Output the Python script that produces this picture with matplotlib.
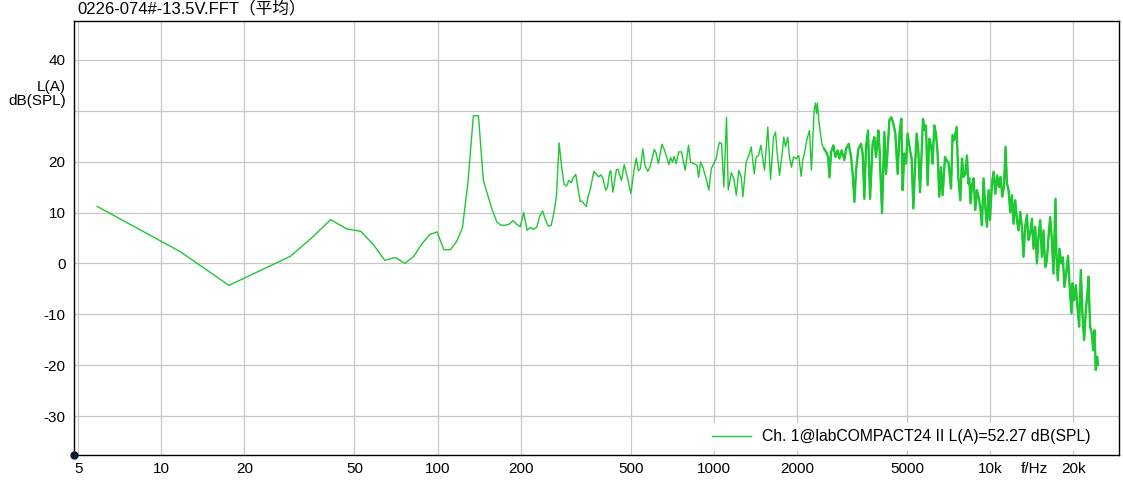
import matplotlib
matplotlib.use('Agg')
import matplotlib.pyplot as plt
from matplotlib.ticker import NullLocator

plt.rcParams['font.family'] = ['Liberation Sans', 'Noto Sans CJK SC']

title = '0226-074#-13.5V.FFT（平均）'
legend_label = 'Ch. 1@labCOMPACT24 II L(A)=52.27 dB(SPL)'

# FFT bins at the low end (5.86 Hz resolution)
freq_low = [5.86, 11.72, 17.58, 23.44, 29.30, 35.16, 41.02, 46.88, 52.73, 58.59,
            64.45, 70.31, 76.17, 82.03, 87.89, 93.75, 99.61, 105.47, 111.33, 117.19,
            123.05, 128.91, 134.77, 140.63, 146.48, 152.34, 158.20, 164.06, 169.92, 175.78,
            181.64, 187.50, 193.36, 199.22, 205.08, 210.94, 216.80, 222.66, 228.52, 234.38,
            240.23, 246.09, 251.95, 257.81, 263.67, 269.53, 275.39, 281.25, 287.11, 292.97,
            298.83, 304.69, 310.55, 316.41, 322.27, 328.13, 333.98, 339.84, 345.70, 351.56,
            357.42]
level_low = [11.2, 2.3, -4.3, -1.1, 1.4, 5.1, 8.6, 6.8, 6.3, 3.7,
             0.6, 1.2, 0.0, 1.4, 3.9, 5.7, 6.2, 2.7, 2.7, 4.3,
             7.0, 16.0, 29.0, 29.0, 16.3, 13.2, 10.3, 8.1, 7.5, 7.5,
             7.7, 8.4, 7.7, 7.2, 10.0, 6.5, 7.1, 6.7, 7.1, 9.3,
             10.3, 8.5, 7.3, 7.5, 9.9, 13.4, 23.7, 19.0, 15.5, 15.2,
             16.3, 15.9, 16.9, 17.5, 14.8, 12.2, 12.2, 11.6, 11.2, 13.4,
             14.6]

# dense part, read as peaks / dips
freq_high = [368, 383, 390, 397, 406, 412, 420, 424, 431, 444, 450, 463, 474, 486, 501,
             514, 524, 533, 542, 554, 563, 577, 589, 609, 619, 630, 649, 664, 688, 698,
             709, 719, 731, 747, 764, 788, 810, 824, 847, 869, 881, 896, 913, 934, 960,
             979, 1021, 1034, 1049, 1067, 1087, 1112, 1128, 1157, 1182, 1206, 1232, 1257, 1274, 1310,
             1339, 1366, 1401, 1424, 1452, 1480, 1505, 1526, 1569, 1605, 1645, 1673, 1691, 1729, 1763,
             1792, 1818, 1853, 1879, 1911, 1943, 1987, 2030, 2071, 2099, 2129, 2170, 2220, 2257, 2282,
             2308, 2333, 2353, 2372, 2398, 2433, 2467, 2508, 2550, 2594, 2622, 2659, 2710, 2756, 2810,
             2849, 2904, 2970, 3012, 3078, 3141, 3183, 3228, 3274, 3337, 3413, 3459, 3508, 3557, 3617,
             3678, 3758, 3812, 3866, 3941, 3973, 4065, 4144, 4203, 4259, 4320, 4393, 4467, 4541, 4630,
             4708, 4775, 4827, 4895, 4964, 5030, 5134, 5203, 5277, 5366, 5424, 5501, 5579, 5654, 5720,
             5816, 5864, 5943, 6028, 6129, 6196, 6283, 6373, 6459, 6551, 6645, 6734, 6871, 6963, 7081,
             7224, 7320, 7425, 7568, 7675, 7805, 7915, 8022, 8137, 8252, 8342, 8411, 8503, 8603, 8719,
             8843, 8968, 9088, 9218, 9349, 9475, 9610, 9747, 9878, 9995, 10160, 10300, 10445, 10621, 10772,
             10917, 11073, 11230, 11381, 11515, 11670, 11835, 12003, 12164, 12339, 12514, 12683, 12862, 13046, 13219,
             13408, 13598, 13781, 13979, 14178, 14369, 14573, 14782, 14977, 15192, 15407, 15614, 15838, 16062, 16278,
             16508, 16745, 16967, 17254, 17398, 17600, 17836, 18093, 18349, 18596, 18858, 19161, 19387, 19712, 19876,
             20160, 20446, 20721, 21018, 21316, 21603, 21909, 22222, 22521, 22709, 23030, 23360, 23614, 23871, 24148,
             24410, 24614]
level_high = [18.1, 17.0, 17.4, 16.7, 14.4, 14.9, 18.0, 18.2, 14.0, 18.4, 18.5, 16.3, 19.4, 17.0, 13.7,
              18.3, 20.7, 18.2, 18.6, 22.5, 19.3, 18.1, 19.1, 22.4, 21.6, 19.6, 23.4, 22.2, 19.4, 20.8,
              19.9, 21.0, 19.6, 21.9, 21.9, 18.3, 23.2, 19.9, 19.6, 19.3, 16.9, 19.9, 18.9, 17.0, 14.4,
              18.6, 20.6, 22.5, 23.8, 23.5, 15.0, 28.7, 14.4, 17.8, 16.7, 13.4, 18.3, 17.0, 13.1, 19.9,
              21.2, 22.9, 17.6, 20.9, 21.2, 23.2, 20.6, 18.3, 26.8, 16.5, 24.8, 25.8, 22.5, 17.3, 20.9,
              24.8, 22.9, 24.8, 20.9, 18.9, 20.9, 20.6, 21.2, 17.1, 20.3, 21.6, 24.2, 26.1, 18.3, 24.2,
              30.1, 31.5, 29.4, 31.5, 28.1, 25.5, 23.2, 22.5, 21.9, 20.9, 16.9, 21.9, 23.2, 20.9, 22.2,
              20.6, 22.2, 20.3, 22.5, 23.5, 20.9, 17.6, 12.1, 18.3, 22.5, 23.5, 21.6, 12.7, 22.9, 26.1,
              12.7, 23.5, 24.8, 20.9, 26.1, 23.5, 9.9, 25.8, 17.6, 22.2, 28.1, 28.7, 27.5, 25.5, 17.6,
              25.8, 28.4, 14.4, 21.6, 19.6, 25.5, 22.2, 20.6, 10.8, 20.3, 25.5, 22.2, 14.0, 21.6, 28.4,
              26.1, 27.1, 15.4, 24.5, 22.9, 19.6, 27.1, 25.5, 21.6, 13.1, 18.9, 13.4, 20.9, 20.3, 19.6,
              14.7, 25.2, 24.2, 26.8, 17.0, 12.4, 20.6, 17.0, 17.6, 21.2, 15.7, 16.7, 11.8, 15.4, 16.7,
              10.5, 14.4, 13.1, 11.1, 7.5, 16.7, 11.1, 7.2, 14.4, 8.5, 15.7, 18.0, 13.7, 17.3, 15.0,
              17.0, 13.1, 15.0, 22.9, 15.7, 14.4, 10.1, 13.4, 7.8, 12.4, 8.5, 6.5, 10.1, 7.2, 1.3,
              7.2, 9.5, 4.6, 5.9, 8.8, 2.9, 7.2, 0.0, 5.2, 8.5, 1.3, 6.5, -0.7, 0.6, 5.2,
              9.1, 4.6, -2.0, 12.7, 1.3, -3.3, 2.9, 0.0, 1.2, -4.6, -2.0, 1.5, -3.9, -9.8, -3.9,
              -7.2, -4.3, -8.5, -12.4, -1.3, -9.8, -15.0, -9.2, -5.9, -2.6, -12.4, -13.7, -17.0, -13.1, -20.9,
              -18.3, -19.9]

x_ticks = [5, 10, 20, 50, 100, 200, 500, 1000, 2000, 5000, 10000, 20000]
x_labels = ['5', '10', '20', '50', '100', '200', '500', '1000', '2000', '5000', '10k', '20k']
y_ticks = [-30, -20, -10, 0, 10, 20, 30, 40]
y_labels = ['-30', '-20', '-10', '0', '10', '20', '', '40']

freq = freq_low + freq_high
level = level_low + level_high
green = '#1ec832'

W, H = 1123, 488
fig = plt.figure(figsize=(W / 100, H / 100), dpi=100)
ax = fig.add_axes([74 / W, 33 / H, 1045 / W, 434 / H])

ax.semilogx(freq, level, color=green, lw=1.0, label=legend_label)
# above ~2.5 kHz the bins pile up into a thick band
dense = [i for i, f in enumerate(freq) if f >= 2500]
ax.semilogx([freq[i] for i in dense], [level[i] for i in dense], color=green, lw=1.7)

ax.set_xlim(4.83, 29300)
ax.set_ylim(-37.6, 47.6)

ax.set_xticks(x_ticks)
ax.set_xticklabels(x_labels)
ax.xaxis.set_minor_locator(NullLocator())
ax.set_yticks(y_ticks)
ax.set_yticklabels(y_labels)
ax.tick_params(axis='both', length=0, labelsize=11)
ax.tick_params(axis='x', pad=5)
ax.tick_params(axis='y', pad=6)

ax.set_axisbelow(True)
ax.grid(True, color='#c8c8c8', lw=0.9)
for s in ax.spines.values():
    s.set_color('black')
    s.set_linewidth(1.0)

# unit label sits where the "30" label would be
ax.annotate('L(A)\ndB(SPL)', xy=(0, 33.3), xycoords=('axes fraction', 'data'),
            xytext=(-6, 0), textcoords='offset points', ha='right', va='center',
            fontsize=11, linespacing=1.0)
ax.annotate('f/Hz', xy=(0.9187, 0), xycoords='axes fraction',
            xytext=(0, -5), textcoords='offset points', ha='center', va='top', fontsize=11)

fig.text(77 / W, 1 - 8 / H, title, ha='left', va='center', fontsize=12)

# dot at the origin corner
ax.plot([0], [0], 'o', ms=5, color='#0b1a33', transform=ax.transAxes, clip_on=False, zorder=5)

ax.legend(loc='center left', bbox_to_anchor=(698 / W, 51 / H), bbox_transform=fig.transFigure,
          fontsize=11.3, frameon=True, facecolor='white', edgecolor='none', framealpha=1,
          fancybox=False, handlelength=2.45, handletextpad=0.7, borderpad=0.4)

fig.savefig('out.png', dpi=100)
